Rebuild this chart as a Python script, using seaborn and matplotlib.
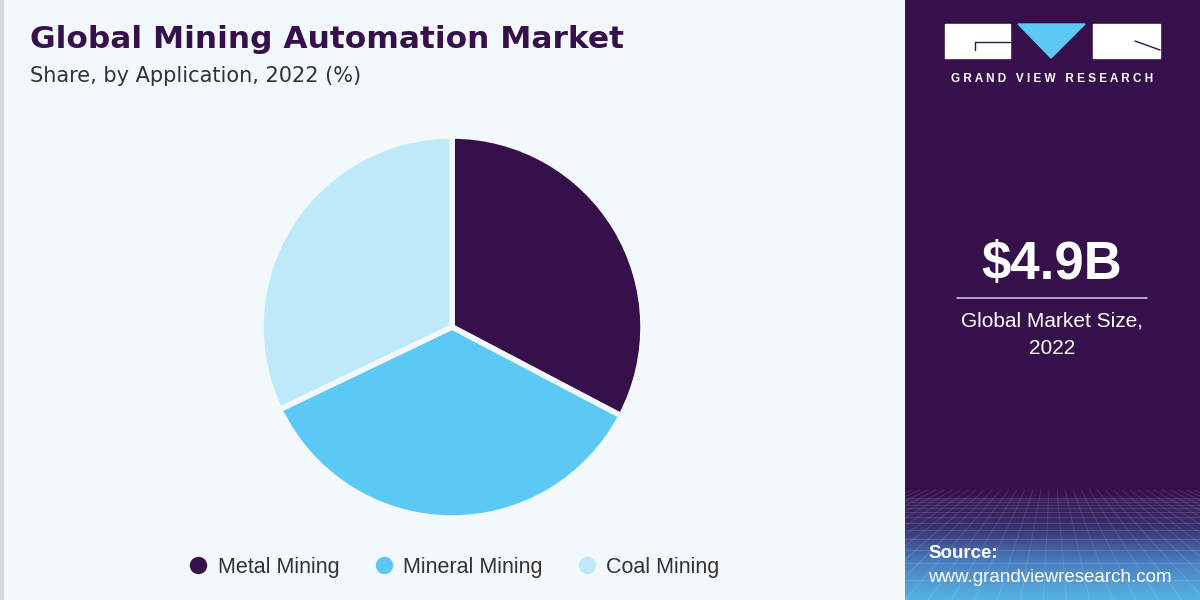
import numpy as np
import pandas as pd
import matplotlib.pyplot as plt
import matplotlib.patches as mpatches
from matplotlib.lines import Line2D
from matplotlib.colors import LinearSegmentedColormap
import seaborn as sns

# Data
applications = ['Metal Mining', 'Mineral Mining', 'Coal Mining']
shares = [32.7, 35.2, 32.1]
colors = ['#36104a', '#5bc8f6', '#bee9f9']
market_size = '$4.9B'
market_label = ['Global Market Size,', '2022']

df = pd.DataFrame({'application': applications, 'share': shares})

sns.set_theme(style='white')
plt.rcParams['font.family'] = ['Liberation Sans', 'DejaVu Sans']

fig = plt.figure(figsize=(12, 6), dpi=100)
fig.patch.set_facecolor('#f3f8fc')

# thin grey border on the left edge
fig.add_artist(mpatches.Rectangle((0, 0), 3 / 1200, 1, transform=fig.transFigure,
                                  color='#d6d9dc', zorder=0))

# right dark panel
panel = fig.add_axes([905 / 1200, 0, 295 / 1200, 1])
panel.set_xlim(0, 295)
panel.set_ylim(600, 0)
panel.axis('off')
panel.add_patch(mpatches.Rectangle((0, 0), 295, 600, color='#36104a', zorder=0))
grad_cmap = LinearSegmentedColormap.from_list('g', ['#36104a', '#3b2f70', '#4a80c2', '#57b3e2'])
grad = np.linspace(0, 1, 200).reshape(-1, 1)
panel.imshow(grad, extent=(0, 295, 600, 490), cmap=grad_cmap, aspect='auto', zorder=1)
# faint perspective mesh
for yy in np.geomspace(8, 110, 14):
    panel.plot([0, 295], [490 + yy, 490 + yy], color='white', alpha=0.12, lw=0.8, zorder=2)
for xx in np.linspace(-300, 600, 40):
    panel.plot([147 + (xx - 147) * 0.35, xx], [490, 600], color='white', alpha=0.10, lw=0.8, zorder=2)

# logo
panel.add_patch(mpatches.Rectangle((40, 24), 65, 34, color='white', zorder=3))
panel.add_patch(mpatches.Rectangle((188, 24), 67, 34, color='white', zorder=3))
panel.add_patch(mpatches.Polygon([(113, 24), (180, 24), (146, 58)], color='#5bc8f6', zorder=3))
panel.plot([70, 105], [42, 42], color='#36104a', lw=1, zorder=4)
panel.plot([70, 70], [42, 50], color='#36104a', lw=1, zorder=4)
panel.plot([230, 255], [41, 50], color='#36104a', lw=1, zorder=4)
panel.text(147, 79, 'G R A N D   V I E W   R E S E A R C H', color='white', fontsize=8.5,
           fontweight='bold', ha='center', va='center', zorder=4)

panel.text(147, 265, market_size, color='white', fontsize=38, fontweight='bold',
           ha='center', va='center', zorder=4)
panel.plot([52, 242], [298, 298], color='#c9bfd6', lw=1.2, zorder=4)
panel.text(147, 321, market_label[0], color='white', fontsize=15, ha='center', va='center', zorder=4)
panel.text(147, 348, market_label[1], color='white', fontsize=15, ha='center', va='center', zorder=4)
panel.text(23, 554, 'Source:', color='white', fontsize=13.5, fontweight='bold',
           ha='left', va='center', zorder=4)
panel.text(23, 578, 'www.grandviewresearch.com', color='white', fontsize=13.5,
           ha='left', va='center', zorder=4)

# titles
fig.text(30 / 1200, 1 - 40 / 600, 'Global Mining Automation Market', color='#36104a',
         fontsize=22.5, fontweight='bold', ha='left', va='center', family='DejaVu Sans')
fig.text(30 / 1200, 1 - 76 / 600, 'Share, by Application, 2022 (%)', color='#333333',
         fontsize=15, ha='left', va='center', family='DejaVu Sans')

# pie
ax = fig.add_axes([(452 - 191) / 1200, (600 - 327 - 191) / 600, 382 / 1200, 382 / 600])
ax.pie(df['share'], colors=colors, startangle=90, counterclock=False,
       wedgeprops=dict(edgecolor='#f3f8fc', linewidth=4))
ax.set_xlim(-1, 1)
ax.set_ylim(-1, 1)
ax.set_aspect('equal')
ax.axis('off')

handles = [Line2D([0], [0], marker='o', linestyle='', markersize=11.5, markerfacecolor=c,
                  markeredgecolor=c) for c in colors]
fig.legend(handles, df['application'], ncol=3, loc='center', bbox_to_anchor=(448 / 1200, 33 / 600),
           frameon=False, fontsize=15.5, handletextpad=-0.1, columnspacing=1.05, labelcolor='#333333')

fig.savefig('out.png', dpi=100, facecolor=fig.get_facecolor())
